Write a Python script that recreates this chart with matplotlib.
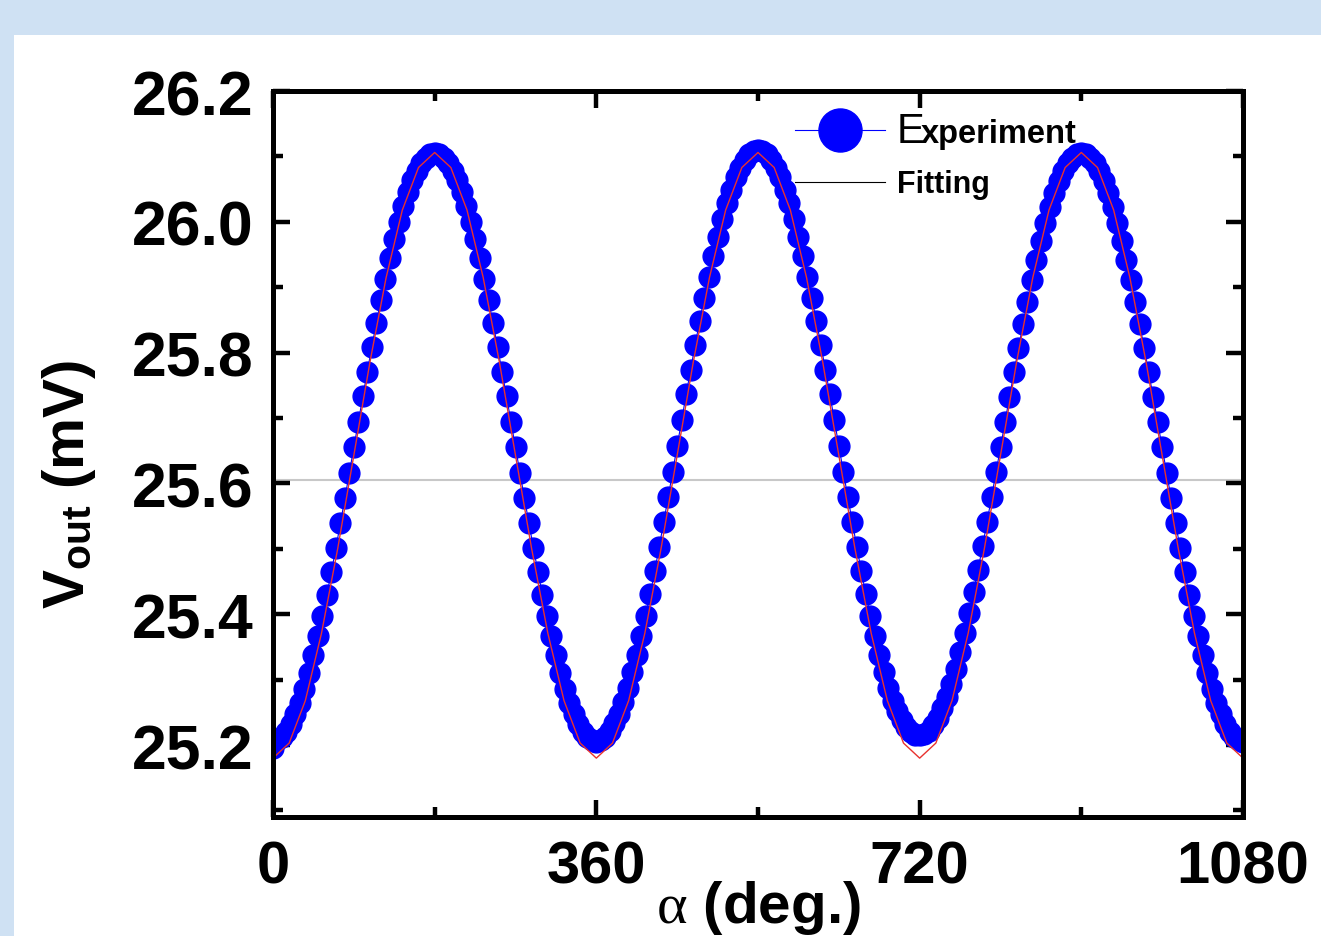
import numpy as np
import matplotlib.pyplot as plt
from matplotlib.patches import Rectangle
from matplotlib.ticker import MultipleLocator

plt.rcParams['font.family'] = ['Liberation Sans', 'DejaVu Sans']
plt.rcParams['font.weight'] = 'bold'
plt.rcParams['axes.labelweight'] = 'bold'
plt.rcParams['mathtext.fontset'] = 'custom'
plt.rcParams['mathtext.rm'] = 'Liberation Sans:bold'
plt.rcParams['mathtext.it'] = 'Liberation Serif:regular'

# measured output voltage, one point every 5 degrees
angle = np.arange(0, 1081, 5)
v_exp = [
    25.195, 25.207, 25.212, 25.220, 25.232, 25.247, 25.265, 25.286, 25.310, 25.337,
    25.366, 25.397, 25.430, 25.465, 25.501, 25.539, 25.577, 25.616, 25.655, 25.694,
    25.733, 25.771, 25.809, 25.845, 25.880, 25.913, 25.944, 25.973, 26.000, 26.024,
    26.045, 26.064, 26.078, 26.090, 26.098, 26.103,
    26.105, 26.103, 26.098, 26.090, 26.078, 26.064, 26.045, 26.024, 26.000, 25.973,
    25.944, 25.913, 25.880, 25.845, 25.809, 25.771, 25.733, 25.694, 25.655, 25.616,
    25.577, 25.539, 25.501, 25.465, 25.430, 25.397, 25.366, 25.337, 25.310, 25.286,
    25.265, 25.247, 25.232, 25.220, 25.212, 25.207,
    25.205, 25.208, 25.213, 25.221, 25.233, 25.248, 25.266, 25.287, 25.311, 25.338,
    25.367, 25.398, 25.431, 25.466, 25.503, 25.541, 25.579, 25.618, 25.657, 25.697,
    25.736, 25.774, 25.812, 25.848, 25.883, 25.916, 25.948, 25.977, 26.004, 26.028,
    26.049, 26.068, 26.083, 26.095, 26.103, 26.108,
    26.110, 26.108, 26.103, 26.095, 26.083, 26.068, 26.049, 26.028, 26.004, 25.977,
    25.948, 25.916, 25.883, 25.848, 25.812, 25.774, 25.736, 25.697, 25.657, 25.618,
    25.579, 25.541, 25.503, 25.466, 25.431, 25.398, 25.367, 25.338, 25.311, 25.287,
    25.268, 25.252, 25.238, 25.227, 25.220, 25.216,
    25.215, 25.217, 25.222, 25.230, 25.241, 25.256, 25.273, 25.294, 25.317, 25.343,
    25.372, 25.402, 25.434, 25.468, 25.504, 25.541, 25.579, 25.617, 25.655, 25.694,
    25.732, 25.770, 25.807, 25.843, 25.878, 25.911, 25.942, 25.971, 25.998, 26.022,
    26.044, 26.063, 26.078, 26.090, 26.098, 26.103,
    26.105, 26.103, 26.098, 26.090, 26.078, 26.063, 26.044, 26.022, 25.998, 25.971,
    25.942, 25.911, 25.878, 25.843, 25.807, 25.770, 25.732, 25.694, 25.655, 25.616,
    25.577, 25.539, 25.501, 25.465, 25.430, 25.397, 25.366, 25.337, 25.310, 25.286,
    25.265, 25.247, 25.232, 25.220, 25.212, 25.207, 25.205,
]

# fitted curve, evaluated every 18 degrees
fit_angle = np.arange(0, 1081, 18)
v_fit = [
    25.180, 25.203, 25.268, 25.371, 25.500, 25.643, 25.786, 25.915, 26.018, 26.083,
    26.106, 26.083, 26.018, 25.915, 25.786, 25.643, 25.500, 25.371, 25.268, 25.203,
    25.180, 25.203, 25.268, 25.371, 25.500, 25.643, 25.786, 25.915, 26.018, 26.083,
    26.106, 26.083, 26.018, 25.915, 25.786, 25.643, 25.500, 25.371, 25.268, 25.203,
    25.180, 25.203, 25.268, 25.371, 25.500, 25.643, 25.786, 25.915, 26.018, 26.083,
    26.106, 26.083, 26.018, 25.915, 25.786, 25.643, 25.500, 25.371, 25.268, 25.203,
    25.180,
]
v_mid = 25.605

x_ticks = [0, 360, 720, 1080]
y_ticks = [25.2, 25.4, 25.6, 25.8, 26.0, 26.2]

fig = plt.figure(figsize=(13.21, 9.37), dpi=100, facecolor='#cfe1f3')
# white sheet over the blue backdrop
fig.add_artist(Rectangle((14 / 1321, 0), 1, 1 - 36 / 937, transform=fig.transFigure,
                         facecolor='white', edgecolor='none', zorder=-1))

ax = fig.add_axes([273 / 1321, 1 - 818 / 937, 970 / 1321, 726 / 937])
ax.set_zorder(1)
ax.set_facecolor('white')

ax.axhline(v_mid, color='#c8c8c8', lw=1.5, zorder=1)
ax.plot(angle, v_exp, '-o', color='#0000ff', lw=0.8, ms=15, mec='#0000ff', zorder=2)
ax.plot(fit_angle, v_fit, '-', color='#e8322e', lw=1.0, zorder=3)

ax.set_xlim(0, 1080)
ax.set_ylim(25.09, 26.2)
ax.set_xticks(x_ticks)
ax.set_yticks(y_ticks)
ax.xaxis.set_minor_locator(MultipleLocator(180))
ax.yaxis.set_minor_locator(MultipleLocator(0.1))
ax.set_yticklabels([f'{v:.1f}' for v in y_ticks])

for s in ax.spines.values():
    s.set_linewidth(3.6)
    s.set_zorder(4)
ax.tick_params(which='both', direction='in', top=True, right=True, width=3.2)
ax.tick_params(which='major', length=12)
ax.tick_params(which='minor', length=7)
ax.tick_params(axis='y', which='major', labelsize=45, pad=14)
ax.tick_params(axis='x', which='major', labelsize=43, pad=16)

ax.set_xlabel(r'$\alpha$ (deg.)', fontsize=42, labelpad=-12)
ax.set_ylabel(r'V$_{\rm out}$ (mV)', fontsize=42)
ax.yaxis.set_label_coords(-0.18, 0.46)

# legend drawn by hand in axes fraction
tr = ax.transAxes
ax.plot([0.538, 0.631], [0.946, 0.946], '-', color='#0000ff', lw=0.8, transform=tr)
ax.plot([0.585], [0.946], 'o', color='#0000ff', ms=31, transform=tr)
ax.plot([0.538, 0.631], [0.874, 0.874], '-', color='black', lw=0.8, transform=tr)
ax.text(0.643, 0.930, 'E', fontsize=30, fontweight='normal', transform=tr)
ax.text(0.668, 0.930, 'xperiment', fontsize=23.5, transform=tr)
ax.text(0.643, 0.861, 'Fitting', fontsize=22, transform=tr)

fig.savefig('out.png', dpi=100, facecolor=fig.get_facecolor())
